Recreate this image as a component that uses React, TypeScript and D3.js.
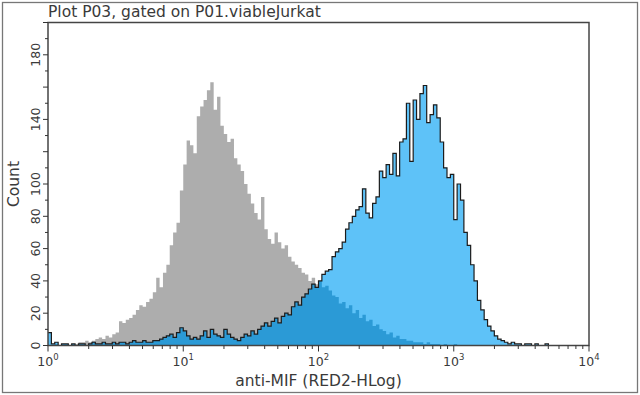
import React from 'react';
import * as d3 from 'd3';

// Histogram channels: 40 bins per decade, from 10^0 to 10^4 (160 bins)
const BINS_PER_DECADE = 40;

// Isotype / unstained control (grey)
const grayCounts = [
  0, 0, 1, 0, 1, 1, 0, 1, 1, 2,
  2, 3, 2, 3, 4, 5, 4, 6, 5, 7,
  8, 15, 14, 16, 17, 19, 22, 25, 24, 27,
  29, 33, 42, 36, 45, 50, 62, 70, 76, 96,
  112, 127, 124, 119, 142, 148, 152, 158, 163, 146,
  154, 136, 131, 126, 128, 116, 112, 108, 100, 94,
  88, 82, 78, 92, 72, 66, 63, 70, 64, 60,
  62, 55, 52, 50, 48, 45, 44, 40, 42, 38,
  40, 36, 37, 34, 31, 30, 26, 27, 23, 25,
  20, 22, 17, 19, 15, 16, 12, 13, 10, 9,
  7, 8, 5, 6, 4, 4, 3, 3, 2, 2,
  2, 1, 2, 1, 1, 1, 0, 1, 0, 0,
  1, 0, 0, 0, 0, 0, 0, 0, 0, 0,
  0, 0, 0, 0, 0, 0, 0, 0, 0, 0,
  0, 0, 0, 0, 0, 0, 0, 0, 0, 0,
  0, 0, 0, 0, 0, 0, 0, 0, 0, 0,
];

// anti-MIF stained (blue)
const blueCounts = [
  8, 1, 2, 0, 1, 1, 0, 1, 0, 1,
  1, 0, 1, 2, 1, 1, 2, 1, 1, 2,
  1, 2, 2, 1, 2, 3, 2, 2, 3, 2,
  2, 3, 3, 4, 5, 6, 7, 5, 8, 11,
  9, 6, 4, 5, 4, 6, 9, 5, 10, 7,
  6, 5, 10, 7, 5, 4, 3, 5, 7, 6,
  9, 7, 10, 12, 14, 12, 15, 17, 14, 18,
  20, 19, 24, 27, 25, 30, 32, 35, 38, 36,
  40, 44, 46, 47, 55, 58, 60, 64, 72, 76,
  80, 84, 86, 97, 82, 79, 88, 92, 108, 104,
  112, 106, 119, 105, 126, 128, 150, 114, 152, 140,
  156, 161, 138, 143, 149, 141, 126, 110, 104, 106,
  78, 100, 90, 70, 62, 50, 40, 28, 22, 16,
  12, 9, 6, 4, 3, 2, 1, 2, 1, 1,
  0, 1, 1, 0, 1, 0, 0, 1, 0, 0,
  0, 0, 0, 0, 0, 0, 0, 0, 0, 0,
];

const xDecades = [0, 1, 2, 3, 4];
const yTickValues = [0, 20, 40, 60, 80, 100, 120, 140, 160, 180, 200];
const yTickLabels = ['0', '20', '40', '60', '80', '100', '', '140', '', '180', ''];
const yMinorValues = [10, 30, 50, 70, 90, 110, 130, 150, 170, 190];

const titleText = 'Plot P03, gated on P01.viableJurkat';
const xLabel = 'anti-MIF (RED2-HLog)';
const yLabel = 'Count';

const W = 640;
const H = 395;
const FONT = '"DejaVu Sans", Verdana, sans-serif';
const TEXT = '#3a3a3a';

export default function App() {
  const x = d3.scaleLog().domain([1, 1e4]).range([48, 589]);
  const y = d3.scaleLinear().domain([0, 200]).range([345.5, 22.5]);

  type P = { e: number; v: number };
  const toPts = (arr: number[]): P[] => {
    const pts: P[] = arr.map((v, i) => ({ e: Math.pow(10, i / BINS_PER_DECADE), v }));
    pts.push({ e: Math.pow(10, arr.length / BINS_PER_DECADE), v: arr[arr.length - 1] });
    return pts;
  };
  const minCounts = grayCounts.map((g, i) => Math.min(g, blueCounts[i]));

  const area = d3
    .area<P>()
    .x((p) => x(p.e))
    .y0(y(0))
    .y1((p) => y(p.v))
    .curve(d3.curveStepAfter);
  const line = d3
    .line<P>()
    .x((p) => x(p.e))
    .y((p) => y(p.v))
    .curve(d3.curveStepAfter);

  const minorX: number[] = [];
  for (let k = 0; k < 4; k++) for (let m = 2; m <= 9; m++) minorX.push(m * Math.pow(10, k));

  const [x0, x1] = x.range();
  const [yb, yt] = y.range();

  return (
    <svg
      width={W}
      height={H}
      style={{ position: 'absolute', left: 0, top: 0, background: '#fff' }}
      fontFamily={FONT}
    >
      <rect x={2.5} y={2.5} width={W - 5} height={H - 5} fill="none" stroke="#777" strokeWidth={1.3} />
      <text x={48} y={17} fontSize={15.5} fill={TEXT}>
        {titleText}
      </text>

      <path d={area(toPts(grayCounts)) || ''} fill="#adadad" />
      <path d={area(toPts(blueCounts)) || ''} fill="#5ec2f8" />
      <path d={area(toPts(minCounts)) || ''} fill="#2b9ad6" />
      <path d={line(toPts(blueCounts)) || ''} fill="none" stroke="#1c1c1c" strokeWidth={1.2} />

      <rect x={x0} y={yt} width={x1 - x0} height={yb - yt} fill="none" stroke="#444" strokeWidth={1.5} />

      {/* x axis ticks */}
      {xDecades.map((d) => (
        <line key={'xm' + d} x1={x(Math.pow(10, d))} x2={x(Math.pow(10, d))} y1={yb} y2={yb + 6} stroke="#333" />
      ))}
      {minorX.map((v) => (
        <line key={'xn' + v} x1={x(v)} x2={x(v)} y1={yb} y2={yb + 3.5} stroke="#333" />
      ))}
      {xDecades.map((d) => (
        <text key={'xl' + d} x={x(Math.pow(10, d))} y={366} fontSize={12.5} fill={TEXT} textAnchor="middle">
          10
          <tspan fontSize={8.5} dy={-6}>
            {d}
          </tspan>
        </text>
      ))}
      <text x={(x0 + x1) / 2} y={386} fontSize={15.5} fill={TEXT} textAnchor="middle">
        {xLabel}
      </text>

      {/* y axis ticks */}
      {yTickValues.map((v) => (
        <line key={'ym' + v} x1={x0 - 5} x2={x0} y1={y(v)} y2={y(v)} stroke="#333" />
      ))}
      {yMinorValues.map((v) => (
        <line key={'yn' + v} x1={x0 - 3} x2={x0} y1={y(v)} y2={y(v)} stroke="#333" />
      ))}
      {yTickValues.map((v, i) =>
        yTickLabels[i] ? (
          <text
            key={'yl' + v}
            transform={`translate(40,${y(v)}) rotate(-90)`}
            fontSize={12.5}
            fill={TEXT}
            textAnchor="middle"
          >
            {yTickLabels[i]}
          </text>
        ) : null
      )}
      <text transform={`translate(19,${(yb + yt) / 2}) rotate(-90)`} fontSize={15.5} fill={TEXT} textAnchor="middle">
        {yLabel}
      </text>
    </svg>
  );
}
